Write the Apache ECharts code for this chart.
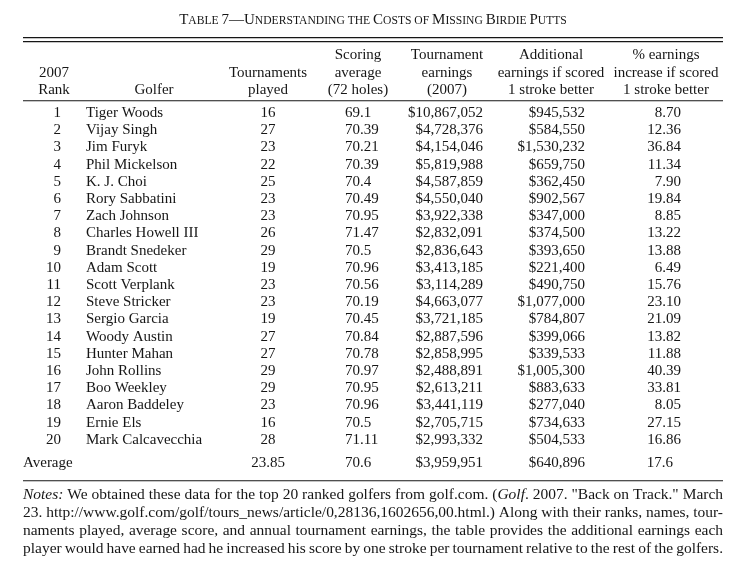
<!DOCTYPE html>
<html>
<head>
<meta charset="utf-8">
<script src="https://cdn.jsdelivr.net/npm/echarts@6/dist/echarts.min.js"></script>
<style>
html,body{margin:0;padding:0;background:#fff;}
#chart{width:738px;height:561px;}
</style>
</head>
<body>
<div id="chart"></div>
<script>
// ---------- data ----------
const RANKS = [1,2,3,4,5,6,7,8,9,10,11,12,13,14,15,16,17,18,19,20];
const GOLFERS = ['Tiger Woods','Vijay Singh','Jim Furyk','Phil Mickelson','K. J. Choi','Rory Sabbatini','Zach Johnson','Charles Howell III','Brandt Snedeker','Adam Scott','Scott Verplank','Steve Stricker','Sergio Garcia','Woody Austin','Hunter Mahan','John Rollins','Boo Weekley','Aaron Baddeley','Ernie Els','Mark Calcavecchia'];
const TOURNAMENTS = [16,27,23,22,25,23,23,26,29,19,23,23,19,27,27,29,29,23,16,28];
const SCORING = [69.1,70.39,70.21,70.39,70.4,70.49,70.95,71.47,70.5,70.96,70.56,70.19,70.45,70.84,70.78,70.97,70.95,70.96,70.5,71.11];
const EARNINGS = [10867052,4728376,4154046,5819988,4587859,4550040,3922338,2832091,2836643,3413185,3114289,4663077,3721185,2887596,2858995,2488891,2613211,3441119,2705715,2993332];
const ADDITIONAL = [945532,584550,1530232,659750,362450,902567,347000,374500,393650,221400,490750,1077000,784807,399066,339533,1005300,883633,277040,734633,504533];
const PCT_INCREASE = [8.70,12.36,36.84,11.34,7.90,19.84,8.85,13.22,13.88,6.49,15.76,23.10,21.09,13.82,11.88,40.39,33.81,8.05,27.15,16.86];
const AVG_LABEL = 'Average';
const AVG_TOURNAMENTS = 23.85;
const AVG_SCORING = 70.6;
const AVG_EARNINGS = 3959951;
const AVG_ADDITIONAL = 640896;
const AVG_PCT = 17.6;

const HEADERS = [
  ['', '2007', 'Rank'],
  ['', '', 'Golfer'],
  ['', 'Tournaments', 'played'],
  ['Scoring', 'average', '(72 holes)'],
  ['Tournament', 'earnings', '(2007)'],
  ['Additional', 'earnings if scored', '1 stroke better'],
  ['% earnings', 'increase if scored', '1 stroke better']
];
const NOTES = [
  '*Notes:* We obtained these data for the top 20 ranked golfers from golf.com. (*Golf*. 2007. "Back on Track." March',
  '23. http://www.golf.com/golf/tours_news/article/0,28136,1602656,00.html.) Along with their ranks, names, tour-',
  'naments played, average score, and annual tournament earnings, the table provides the additional earnings each',
  'player would have earned had he increased his score by one stroke per tournament relative to the rest of the golfers.'
];

// ---------- layout / style ----------
const FONT = 'Liberation Serif';
const INK = '#161616';
const FS = 15;
const LEFT = 23, RIGHT = 723;
const COLS = [
  {x: 61, align: 'right'},
  {x: 86, align: 'left'},
  {x: 268, align: 'center'},
  {x: 345, align: 'left'},
  {x: 483, align: 'right'},
  {x: 585, align: 'right'},
  {x: 681, align: 'right'}
];
const AVG_COLS = [
  {x: 23, align: 'left'},
  {x: 268, align: 'center'},
  {x: 345, align: 'left'},
  {x: 483, align: 'right'},
  {x: 585, align: 'right'},
  {x: 673, align: 'right'}
];
const HEADER_CX = [54, 154, 268, 358, 447, 551, 666];
const HEADER_Y = [55.5, 72.7, 89.9];

const money = v => '$' + v.toLocaleString('en-US');

function cellText(x, y, text, align) {
  return {type: 'text', x: x, y: y,
    style: {text: text, fontSize: FS, fontFamily: FONT, fill: INK, align: align, verticalAlign: 'middle'}};
}

// ---------- graphic: title, rules, headers, notes ----------
const graphics = [];
graphics.push({
  type: 'text', x: 373, y: 19,
  style: {
    text: '{b|T}{s|ABLE }{b|7—U}{s|NDERSTANDING THE }{b|C}{s|OSTS OF }{b|M}{s|ISSING }{b|B}{s|IRDIE }{b|P}{s|UTTS}',
    align: 'center', verticalAlign: 'middle', fill: INK,
    rich: {
      b: {fontSize: 15, fontFamily: FONT, fill: INK, verticalAlign: 'bottom', lineHeight: 18},
      s: {fontSize: 11.6, fontFamily: FONT, fill: INK, verticalAlign: 'bottom', lineHeight: 18, padding: [0, 0, 0.7, 0]}
    }
  }
});
[[37.6, 1.3], [41.6, 1.3], [100.7, 1.1], [480.7, 1.1]].forEach(function (l) {
  graphics.push({type: 'line', shape: {x1: LEFT, y1: l[0], x2: RIGHT, y2: l[0]},
    style: {stroke: INK, lineWidth: l[1]}});
});
HEADERS.forEach(function (col, c) {
  col.forEach(function (t, r) {
    if (t) graphics.push(cellText(HEADER_CX[c], HEADER_Y[r], t, 'center'));
  });
});

// notes, justified between LEFT and RIGHT
(function () {
  const ctx = document.createElement('canvas').getContext('2d');
  const NOTE_Y = [495, 513, 531, 549];
  function parse(line, fs) {
    return line.split(' ').map(function (w) {
      const segs = w.split('*').map(function (t, k) { return {t: t, it: k % 2 === 1}; })
        .filter(function (s) { return s.t.length; });
      let wsum = 0;
      segs.forEach(function (s) {
        ctx.font = (s.it ? 'italic ' : '') + fs + 'px "' + FONT + '"';
        s.w = ctx.measureText(s.t).width;
        wsum += s.w;
      });
      return {segs: segs, w: wsum};
    });
  }
  // choose a font size so the widest line just fits with ~normal spaces
  let NFS = 14;
  let best = 100;
  NOTES.forEach(function (line) {
    const ws = parse(line, 14);
    const tot = ws.reduce(function (a, w) { return a + w.w; }, 0) + (ws.length - 1) * 14 * 0.2;
    best = Math.min(best, 14 * (RIGHT - LEFT) / tot);
  });
  NFS = Math.min(16, best);
  NOTES.forEach(function (line, li) {
    const words = parse(line, NFS);
    const total = words.reduce(function (a, w) { return a + w.w; }, 0);
    const gap = (RIGHT - LEFT - total) / (words.length - 1);
    let x = LEFT;
    words.forEach(function (w) {
      let sx = x;
      w.segs.forEach(function (s) {
        graphics.push({type: 'text', x: sx, y: NOTE_Y[li],
          style: {text: s.t, fontSize: NFS, fontFamily: FONT, fontStyle: s.it ? 'italic' : 'normal',
            fill: INK, align: 'left', verticalAlign: 'middle'}});
        sx += s.w;
      });
      x += w.w + gap;
    });
  });
})();

// ---------- chart ----------
const chart = echarts.init(document.getElementById('chart'), null, {renderer: 'canvas'});
const BAND = 17.2;
const option = {
  backgroundColor: '#ffffff',
  animation: false,
  grid: [
    {left: 0, right: 0, top: 113 - BAND / 2, height: BAND * 20},
    {left: 0, right: 0, top: 463 - BAND / 2, height: BAND}
  ],
  xAxis: [
    {type: 'value', min: 0, max: 738, show: false, gridIndex: 0},
    {type: 'value', min: 0, max: 738, show: false, gridIndex: 1}
  ],
  yAxis: [
    {type: 'category', data: RANKS.map(String), inverse: true, show: false, gridIndex: 0},
    {type: 'category', data: [AVG_LABEL], show: false, gridIndex: 1}
  ],
  series: [
    {
      type: 'custom', xAxisIndex: 0, yAxisIndex: 0,
      data: RANKS.map(function (r, i) { return [0, i]; }),
      renderItem: function (params, api) {
        const i = params.dataIndex;
        const y = api.coord([0, i])[1];
        const cells = [String(RANKS[i]), GOLFERS[i], String(TOURNAMENTS[i]), String(SCORING[i]),
          money(EARNINGS[i]), money(ADDITIONAL[i]), PCT_INCREASE[i].toFixed(2)];
        return {type: 'group', children: COLS.map(function (c, k) {
          return cellText(api.coord([c.x, i])[0], y, cells[k], c.align);
        })};
      }
    },
    {
      type: 'custom', xAxisIndex: 1, yAxisIndex: 1,
      data: [[0, 0]],
      renderItem: function (params, api) {
        const y = api.coord([0, 0])[1];
        const cells = [AVG_LABEL, String(AVG_TOURNAMENTS), String(AVG_SCORING), money(AVG_EARNINGS),
          money(AVG_ADDITIONAL), String(AVG_PCT)];
        return {type: 'group', children: AVG_COLS.map(function (c, k) {
          return cellText(api.coord([c.x, 0])[0], y, cells[k], c.align);
        })};
      }
    }
  ],
  graphic: {elements: graphics}
};
chart.setOption(option);
</script>
</body>
</html>
